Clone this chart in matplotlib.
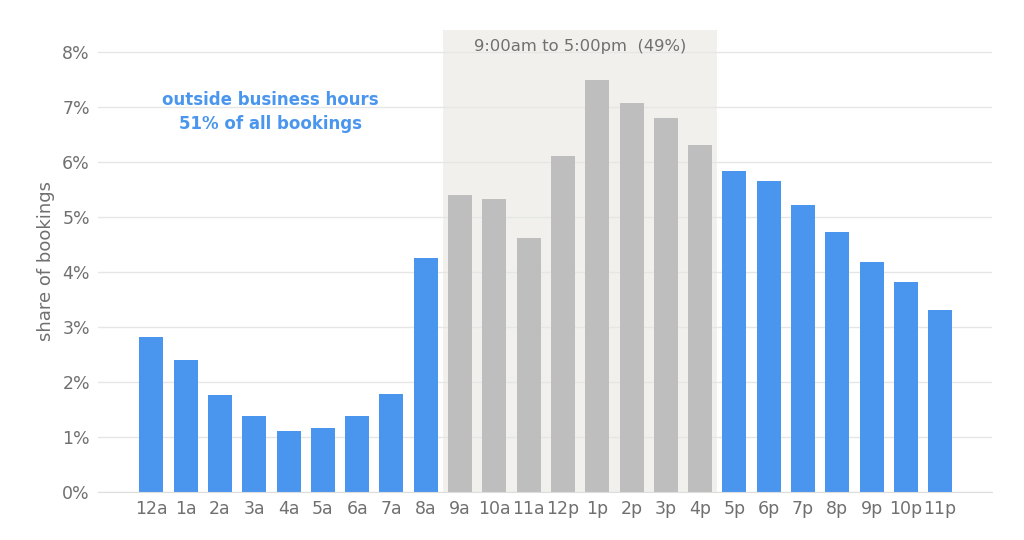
import matplotlib.pyplot as plt
import numpy as np

hours = ['12a', '1a', '2a', '3a', '4a', '5a', '6a', '7a', '8a', '9a', '10a', '11a',
         '12p', '1p', '2p', '3p', '4p', '5p', '6p', '7p', '8p', '9p', '10p', '11p']
share = [2.82, 2.40, 1.77, 1.38, 1.11, 1.16, 1.38, 1.78, 4.26, 5.40, 5.33, 4.62,
         6.11, 7.49, 7.06, 6.80, 6.31, 5.84, 5.65, 5.21, 4.72, 4.18, 3.81, 3.30]
business = [h in ('9a', '10a', '11a', '12p', '1p', '2p', '3p', '4p') for h in hours]

blue = '#4A96EE'
grey_bar = '#BFBEBF'
text_col = '#707070'

fig, ax = plt.subplots(figsize=(10.24, 5.4), dpi=100)
fig.subplots_adjust(left=0.096, right=0.969, top=0.945, bottom=0.089)

x = np.arange(len(hours))
colors = [grey_bar if b else blue for b in business]
ax.axvspan(8.5, 16.5, color='#F1F0ED', zorder=0, lw=0)
ax.bar(x, share, width=0.7, color=colors, zorder=2)

ax.set_xlim(-1.55, 24.52)
ax.set_ylim(0, 8.4)
ax.set_yticks(range(9))
ax.set_yticklabels([f'{i}%' for i in range(9)])
ax.set_xticks(x)
ax.set_xticklabels(hours)
ax.grid(axis='y', color='#E6E6E6', lw=1, zorder=1)
ax.set_axisbelow(True)
for s in ['top', 'right', 'left']:
    ax.spines[s].set_visible(False)
ax.spines['bottom'].set_color('#DDDDDD')
ax.tick_params(axis='both', length=0, labelsize=12.5, colors=text_col, pad=6)
ax.set_ylabel('share of bookings', fontsize=13, color=text_col, labelpad=5)

ax.text(12.5, 8.1, '9:00am to 5:00pm  (49%)', ha='center', va='center',
        fontsize=11.8, color=text_col)
ax.text(3.47, 6.9, 'outside business hours\n51% of all bookings', ha='center',
        va='center', fontsize=12, color=blue, fontweight='bold', linespacing=1.4)

plt.savefig('out.png', dpi=100)
